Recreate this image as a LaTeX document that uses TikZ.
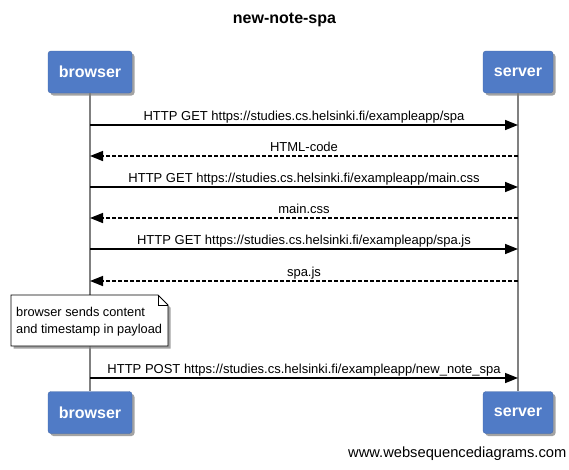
\documentclass[tikz,border=0pt]{standalone}
\usepackage{fontspec}
\setmainfont{Liberation Sans}
\usetikzlibrary{arrows.meta,shadows}
\definecolor{actorblue}{RGB}{80,123,198}
\tikzset{
  actor/.style={draw=actorblue!85!black, fill=actorblue, rounded corners=3pt,
    minimum width=70pt, minimum height=42pt, inner sep=0pt,
    text=white, font=\fontsize{16}{18}\selectfont\bfseries,
    drop shadow={shadow xshift=2.5pt, shadow yshift=-2.5pt, fill=black!45, opacity=0.8}},
  lifeline/.style={draw=black!50, line width=1.5pt},
  req/.style={line width=1.5pt, -{Triangle[length=13pt,width=10pt]}},
  resp/.style={line width=1.5pt, dash pattern=on 4pt off 2pt, -{Triangle[length=13pt,width=10pt]}},
  msg/.style={font=\fontsize{13}{15}\selectfont, inner sep=0pt, anchor=base},
}
\begin{document}
\begin{tikzpicture}[x=1pt,y=-1pt]
\useasboundingbox[fill=white] (0,0) rectangle (569,469);
\node[font=\fontsize{16}{18}\selectfont\bfseries] (title) at (284.5,20) {new-note-spa};
% actors
\node[actor, minimum width=84pt] (btop) at (90,72) {browser};
\node[actor] (stop) at (518,72) {server};
\node[actor, minimum width=84pt] (bbot) at (90,412.5) {browser};
\node[actor] (sbot) at (518,412.5) {server};
\draw[lifeline] (btop.south) -- (bbot.north);
\draw[lifeline] (stop.south) -- (sbot.north);
% message anchors
\foreach \i/\y in {1/125,2/156,3/187,4/218,5/249,6/281,7/378}{
  \coordinate (b\i) at (90,\y);
  \coordinate (s\i) at (518,\y);
}
\draw[req] (b1) -- (s1) node[msg, midway, yshift=4.5pt] (l1) {HTTP GET https://studies.cs.helsinki.fi/exampleapp/spa};
\draw[resp] (s2) -- (b2) node[msg, midway, yshift=4.5pt] (l2) {HTML-code};
\draw[req] (b3) -- (s3) node[msg, midway, yshift=4.5pt] (l3) {HTTP GET https://studies.cs.helsinki.fi/exampleapp/main.css};
\draw[resp] (s4) -- (b4) node[msg, midway, yshift=4.5pt] (l4) {main.css};
\draw[req] (b5) -- (s5) node[msg, midway, yshift=4.5pt] (l5) {HTTP GET https://studies.cs.helsinki.fi/exampleapp/spa.js};
\draw[resp] (s6) -- (b6) node[msg, midway, yshift=4.5pt] (l6) {spa.js};
\draw[req] (b7) -- (s7) node[msg, midway, yshift=4.5pt] (l7) {HTTP POST https://studies.cs.helsinki.fi/exampleapp/new\_note\_spa};
% note
\fill[black!45, opacity=0.8] (13.5,297.5) -- (160.5,297.5) -- (170.5,307.5) -- (170.5,348.5) -- (13.5,348.5) -- cycle;
\draw[fill=white, line width=0.8pt] (11,295) -- (158,295) -- (168,305) -- (168,346) -- (11,346) -- cycle;
\draw[line width=0.8pt] (158,295) -- (158,305) -- (168,305);
\node[font=\fontsize{12.8}{17}\selectfont, align=left, anchor=north west, inner sep=0pt] (note) at (16,307) {browser sends content\\and timestamp in payload};
% footer
\node[font=\fontsize{14.7}{17}\selectfont, anchor=east, inner sep=0pt] (footer) at (566.5,454) {www.websequencediagrams.com};
\end{tikzpicture}
\end{document}
